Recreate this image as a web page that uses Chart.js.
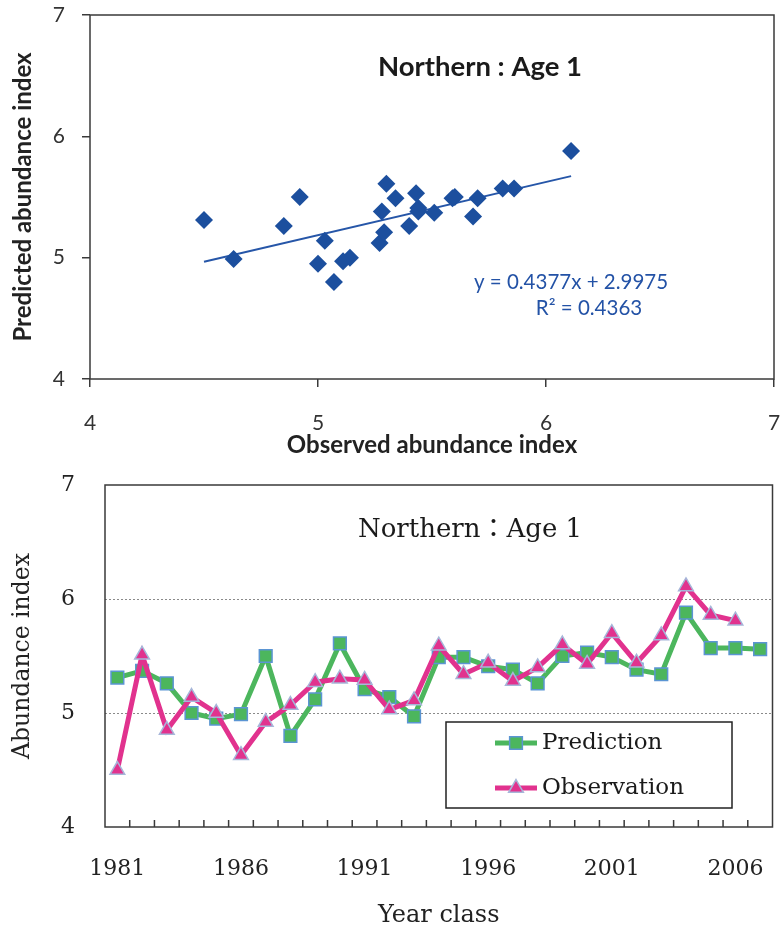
<!DOCTYPE html>
<html>
<head>
<meta charset="utf-8">
<script src="https://cdn.jsdelivr.net/npm/chart.js@4.4.1/dist/chart.umd.min.js"></script>
<style>
  html, body { margin: 0; padding: 0; background: #ffffff; }
  #scatterBox { position: absolute; left: 0; top: 0; width: 783px; height: 465px; }
  #seriesBox { position: absolute; left: 0; top: 465px; width: 783px; height: 466px; }
</style>
</head>
<body>
<div id="scatterBox"><canvas id="scatterChart" width="783" height="465"></canvas></div>
<div id="seriesBox"><canvas id="seriesChart" width="783" height="466"></canvas></div>
<script>
// Year classes on the time axis
const yearClasses = ['1981','1982','1983','1984','1985','1986','1987','1988','1989','1990',
  '1991','1992','1993','1994','1995','1996','1997','1998','1999','2000',
  '2001','2002','2003','2004','2005','2006','2007'];

// Model prediction of the age-1 abundance index (Northern stock)
const prediction = [5.31, 5.37, 5.26, 5.00, 4.95, 4.99, 5.50, 4.80, 5.12, 5.61,
  5.21, 5.14, 4.97, 5.49, 5.49, 5.41, 5.38, 5.26, 5.50, 5.53,
  5.49, 5.38, 5.34, 5.88, 5.57, 5.57, 5.56];

// Observed age-1 abundance index (no observation yet for 2007)
const observation = [4.50, 5.51, 4.85, 5.14, 5.00, 4.63, 4.92, 5.07, 5.27, 5.30,
  5.29, 5.03, 5.11, 5.59, 5.34, 5.44, 5.28, 5.40, 5.60, 5.43,
  5.70, 5.44, 5.68, 6.11, 5.86, 5.81];

// Linear fit of predicted on observed
const fitSlope = 0.4377;
const fitIntercept = 2.9975;
const fitR2 = 0.4363;

// Shared value-axis ticks
const indexTicks = [4, 5, 6, 7];

const SANS = 'Lato, "Open Sans", sans-serif';
const SERIF = '"DejaVu Serif", "Liberation Serif", "Noto Sans CJK JP", serif';
const AXIS_COLOR = '#3a3a3a';

// Observed vs predicted pairs for the years that have both
const pairs = observation.map((o, i) => ({ x: o, y: prediction[i] }));
const obsMin = Math.min(...observation);
const obsMax = Math.max(...observation);
const fitLine = [obsMin, obsMax].map(x => ({ x: x, y: fitSlope * x + fitIntercept }));

// Fixed axis band sizes; edge-label padding is not reserved
function fixBand(size) {
  return function (scale) {
    if (scale.isHorizontal()) scale.height = size; else scale.width = size;
    scale.paddingTop = 0; scale.paddingBottom = 0;
    scale.paddingLeft = 0; scale.paddingRight = 0;
  };
}

// Box around the plotting area
const framePlugin = {
  id: 'frame',
  beforeDatasetsDraw(chart) {
    const { ctx, chartArea: a } = chart;
    ctx.save();
    ctx.strokeStyle = AXIS_COLOR;
    ctx.lineWidth = 1.5;
    ctx.strokeRect(a.left, a.top, a.right - a.left, a.bottom - a.top);
    ctx.restore();
  }
};

// Title and regression equation for the scatter panel
const scatterText = {
  id: 'scatterText',
  afterDatasetsDraw(chart) {
    const { ctx } = chart;
    ctx.save();
    ctx.textAlign = 'center';
    ctx.textBaseline = 'middle';
    ctx.fillStyle = '#1a1a1a';
    ctx.font = 'bold 27.5px ' + SANS;
    ctx.fillText('Northern : Age 1', 480, 67);
    ctx.fillStyle = '#2352a6';
    ctx.font = '20.5px ' + SANS;
    ctx.fillText('y = ' + fitSlope.toFixed(4) + 'x + ' + fitIntercept.toFixed(4), 571, 282);
    ctx.fillText('R\u00B2 = ' + fitR2.toFixed(4), 589, 308);
    ctx.restore();
  }
};

new Chart(document.getElementById('scatterChart'), {
  type: 'scatter',
  data: {
    datasets: [
      {
        label: 'Observed vs predicted',
        data: pairs,
        pointStyle: 'rectRot',
        pointRadius: 9,
        pointHoverRadius: 9,
        backgroundColor: '#1c4f9e',
        borderColor: '#1c4f9e',
        borderWidth: 0,
        order: 0
      },
      {
        type: 'line',
        label: 'Linear fit',
        data: fitLine,
        borderColor: '#2656a8',
        borderWidth: 2,
        pointRadius: 0,
        fill: false,
        order: 1
      }
    ]
  },
  options: {
    responsive: false,
    devicePixelRatio: 1,
    animation: false,
    layout: { padding: { left: 0, top: 15, right: 7, bottom: 0 } },
    plugins: { legend: { display: false }, tooltip: { enabled: false } },
    scales: {
      x: {
        type: 'linear',
        min: 4, max: 7,
        afterBuildTicks(scale) { scale.ticks = indexTicks.map(v => ({ value: v })); },
        afterFit: fixBand(86),
        border: { display: false },
        grid: { drawOnChartArea: false, drawTicks: true, tickLength: 8, color: AXIS_COLOR, lineWidth: 1.5 },
        ticks: { font: { family: SANS, size: 21 }, color: '#333', padding: 24 },
        title: {
          display: true, text: 'Observed abundance index',
          font: { family: SANS, size: 24, weight: 'bold' }, color: '#222',
          padding: { top: 0, bottom: 5 }
        }
      },
      y: {
        type: 'linear',
        min: 4, max: 7,
        afterBuildTicks(scale) { scale.ticks = indexTicks.map(v => ({ value: v })); },
        afterFit: fixBand(90),
        border: { display: false },
        grid: { drawOnChartArea: false, drawTicks: true, tickLength: 8, color: AXIS_COLOR, lineWidth: 1.5 },
        ticks: { font: { family: SANS, size: 21 }, color: '#333', padding: 17 },
        title: {
          display: true, text: 'Predicted abundance index',
          font: { family: SANS, size: 24, weight: 'bold' }, color: '#222',
          padding: { top: 9, bottom: 0 }
        }
      }
    }
  },
  plugins: [framePlugin, scatterText]
});

// Short inward tick marks between year classes
const innerTicks = {
  id: 'innerTicks',
  beforeDatasetsDraw(chart) {
    const { ctx, chartArea: a } = chart;
    const xs = chart.scales.x;
    const n = yearClasses.length;
    ctx.save();
    ctx.strokeStyle = AXIS_COLOR;
    ctx.lineWidth = 1.5;
    ctx.beginPath();
    for (let i = 1; i < n; i++) {
      const px = (xs.getPixelForValue(i - 1) + xs.getPixelForValue(i)) / 2;
      ctx.moveTo(px, a.bottom);
      ctx.lineTo(px, a.bottom - 7);
    }
    ctx.stroke();
    ctx.restore();
  }
};

// Panel title and boxed legend inside the plotting area
const seriesText = {
  id: 'seriesText',
  afterDatasetsDraw(chart) {
    const { ctx } = chart;
    ctx.save();
    ctx.fillStyle = '#1a1a1a';
    ctx.textAlign = 'center';
    ctx.textBaseline = 'middle';
    ctx.font = '26px ' + SERIF;
    ctx.fillText('Northern\uFF1AAge 1', 470, 65);

    // legend box
    const bx = 446, by = 257, bw = 286, bh = 86;
    ctx.fillStyle = '#ffffff';
    ctx.fillRect(bx, by, bw, bh);
    ctx.strokeStyle = '#222';
    ctx.lineWidth = 1.5;
    ctx.strokeRect(bx, by, bw, bh);

    const rows = [278, 323];
    chart.data.datasets.forEach((ds, i) => {
      const y = rows[i];
      ctx.strokeStyle = ds.borderColor;
      ctx.lineWidth = ds.borderWidth;
      ctx.beginPath();
      ctx.moveTo(495, y);
      ctx.lineTo(537, y);
      ctx.stroke();
      ctx.fillStyle = ds.pointBackgroundColor;
      ctx.strokeStyle = ds.pointBorderColor;
      ctx.lineWidth = ds.pointBorderWidth;
      Chart.helpers.drawPoint(ctx, {
        pointStyle: ds.pointStyle, radius: ds.pointRadius, rotation: 0,
        borderWidth: ds.pointBorderWidth
      }, 516, y);
      ctx.fillStyle = '#1a1a1a';
      ctx.textAlign = 'left';
      ctx.font = '23px ' + SERIF;
      ctx.fillText(ds.label, 542, y);
    });
    ctx.restore();
  }
};

new Chart(document.getElementById('seriesChart'), {
  type: 'line',
  data: {
    labels: yearClasses,
    datasets: [
      {
        label: 'Prediction',
        data: prediction,
        borderColor: '#4cb65d',
        borderWidth: 5,
        pointStyle: 'rect',
        pointRadius: 9,
        pointHoverRadius: 9,
        pointBackgroundColor: '#4cb65d',
        pointBorderColor: '#5b95d3',
        pointBorderWidth: 1.5,
        tension: 0,
        fill: false,
        order: 1
      },
      {
        label: 'Observation',
        data: observation,
        borderColor: '#e1328e',
        borderWidth: 5,
        pointStyle: 'triangle',
        pointRadius: 8.5,
        pointHoverRadius: 8.5,
        pointBackgroundColor: '#e1328e',
        pointBorderColor: '#a6b6d9',
        pointBorderWidth: 1.5,
        tension: 0,
        fill: false,
        order: 0
      }
    ]
  },
  options: {
    responsive: false,
    devicePixelRatio: 1,
    animation: false,
    layout: { padding: { left: 0, top: 20, right: 3, bottom: 0 } },
    plugins: { legend: { display: false }, tooltip: { enabled: false } },
    scales: {
      x: {
        type: 'category',
        offset: true,
        afterFit: fixBand(104),
        border: { display: false },
        grid: { display: false, offset: true },
        ticks: {
          autoSkip: false, maxRotation: 0, minRotation: 0,
          font: { family: SERIF, size: 22 }, color: '#222', padding: 21,
          callback(value, index) { return index % 5 === 0 ? this.getLabelForValue(value) : ''; }
        },
        title: {
          display: true, text: 'Year class',
          font: { family: SERIF, size: 24 }, color: '#222',
          padding: { top: 0, bottom: 1 }
        }
      },
      y: {
        type: 'linear',
        min: 4, max: 7,
        afterBuildTicks(scale) { scale.ticks = indexTicks.map(v => ({ value: v })); },
        afterFit: fixBand(105),
        border: { display: false, dash: [2, 2] },
        grid: {
          drawTicks: false,
          lineWidth: 1,
          color: ctx => (ctx.tick && (ctx.tick.value === 5 || ctx.tick.value === 6)) ? '#8a8a8a' : 'rgba(0,0,0,0)'
        },
        ticks: { font: { family: SERIF, size: 22 }, color: '#222', padding: 30 },
        title: {
          display: true, text: 'Abundance index',
          font: { family: SERIF, size: 23.5 }, color: '#222',
          padding: { top: 9, bottom: 0 }
        }
      }
    }
  },
  plugins: [framePlugin, innerTicks, seriesText]
});
</script>
</body>
</html>
